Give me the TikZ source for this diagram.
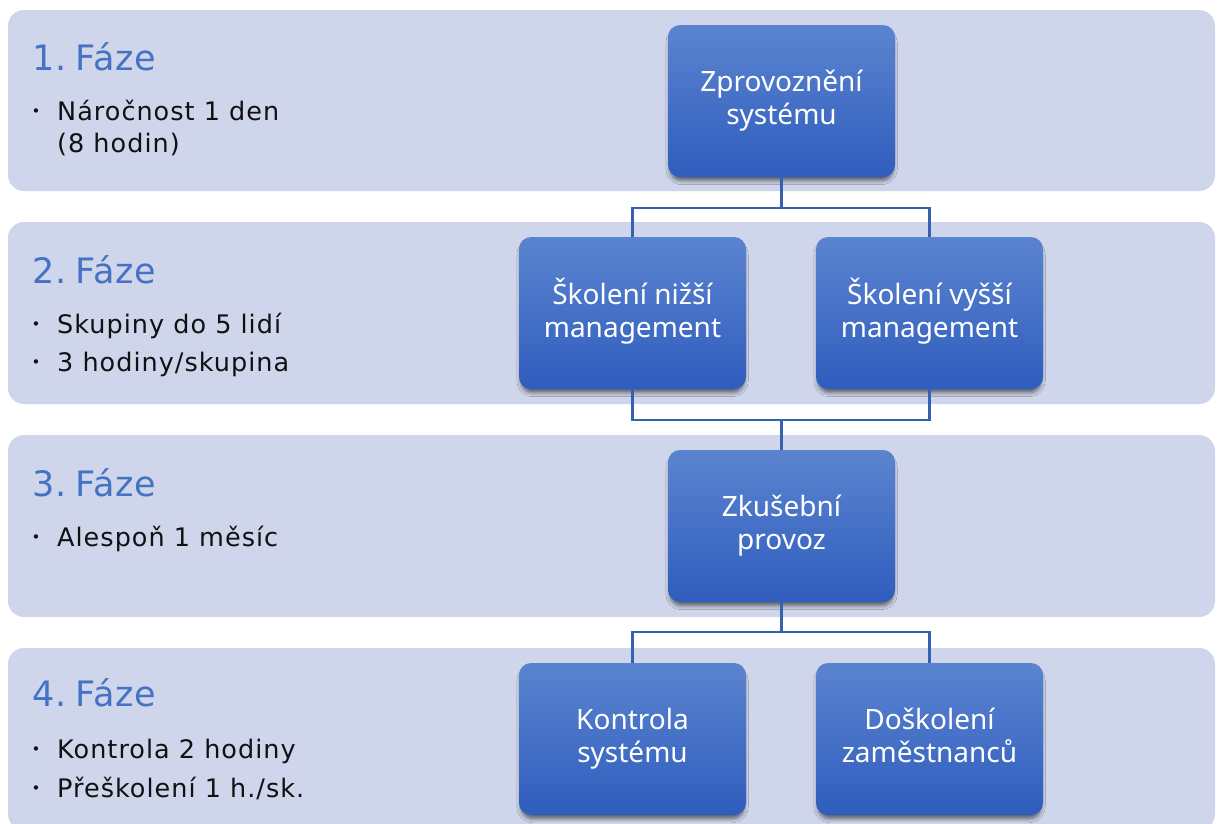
\documentclass[tikz,border=0pt]{standalone}
\usepackage{fontspec}
\setmainfont{Noto Sans}
\newfontfamily\sidefont{DejaVu Sans}
\usetikzlibrary{shadows.blur}
\definecolor{band}{HTML}{CFD5EA}
\definecolor{phaseblue}{HTML}{4472C4}
\definecolor{boxtop}{HTML}{5B84CF}
\definecolor{boxbot}{HTML}{2F5DBE}
\definecolor{linkblue}{HTML}{3461B0}
\definecolor{ink}{HTML}{111111}
\tikzset{
  bandbox/.style={fill=band, rounded corners=16pt},
  stepbox/.style={minimum width=227pt, minimum height=152pt, inner sep=0pt,
    rounded corners=12pt, top color=boxtop, bottom color=boxbot,
    blur shadow={shadow xshift=0pt, shadow yshift=-5pt, shadow scale=0.985,
      shadow opacity=55, shadow blur radius=4pt},
    text=white, align=center, font=\fontsize{28}{33}\selectfont},
  link/.style={draw=linkblue, line width=2.5pt},
  phasetitle/.style={anchor=base west, inner sep=0pt, text=phaseblue,
    font=\sidefont\fontsize{35}{40}\selectfont\addfontfeatures{LetterSpace=2}},
  bullettext/.style={anchor=base west, inner sep=0pt, text=ink,
    font=\sidefont\fontsize{25.5}{32}\selectfont\addfontfeatures{LetterSpace=4}},
  dot/.style={anchor=base, inner sep=0pt, text=ink, font=\sidefont\fontsize{15}{15}\selectfont},
}
\newcommand{\phasegap}{\hspace{0.27em}}
\begin{document}
\begin{tikzpicture}[x=1pt, y=-1pt]
\useasboundingbox (0,0) rectangle (1222,823);
\clip (0,0) rectangle (1222,823);
\fill[white] (0,0) rectangle (1222,823);

% phase bands
\fill[bandbox] (8,10) rectangle (1215,191);
\fill[bandbox] (8,222) rectangle (1215,404);
\fill[bandbox] (8,435) rectangle (1215,617);
\fill[bandbox] (8,648) rectangle (1215,830);

% phase 1
\node[phasetitle] (t1) at (32,70) {1.\phasegap Fáze};
\node[dot] (b1a) at (36,116) {•};
\node[bullettext] (l1a) at (57,120) {Náročnost 1 den};
\node[bullettext] (l1b) at (57,152) {(8 hodin)};

% phase 2
\node[phasetitle] (t2) at (32,283) {2.\phasegap Fáze};
\node[dot] (b2a) at (36,329) {•};
\node[bullettext] (l2a) at (57,333) {Skupiny do 5 lidí};
\node[dot] (b2b) at (36,367) {•};
\node[bullettext] (l2b) at (57,371) {3 hodiny/skupina};

% phase 3
\node[phasetitle] (t3) at (32,496) {3.\phasegap Fáze};
\node[dot] (b3a) at (36,542) {•};
\node[bullettext] (l3a) at (57,546) {Alespoň 1 měsíc};

% phase 4
\node[phasetitle] (t4) at (32,706) {4.\phasegap Fáze};
\node[dot] (b4a) at (36,754) {•};
\node[bullettext] (l4a) at (57,758) {Kontrola 2 hodiny};
\node[dot] (b4b) at (36,793) {•};
\node[bullettext] (l4b) at (57,797) {Přeškolení 1 h./sk.};

% steps
\node[stepbox] (zs) at (781.5,101) {Zprovoznění\strut\\systému\strut};
\node[stepbox] (sn) at (632.5,313) {Školení nižší\strut\\management\strut};
\node[stepbox] (sv) at (929.5,313) {Školení vyšší\strut\\management\strut};
\node[stepbox] (zp) at (781.5,526) {Zkušební\strut\\provoz\strut};
\node[stepbox] (ks) at (632.5,739) {Kontrola\strut\\systému\strut};
\node[stepbox] (dz) at (929.5,739) {Doškolení\strut\\zaměstnanců\strut};

% connectors
\draw[link] (zs.south) -- ++(0,31) -| (sn.north);
\draw[link] (zs.south) -- ++(0,31) -| (sv.north);
\draw[link] (sn.south) -- ++(0,31) -| (zp.north);
\draw[link] (sv.south) -- ++(0,31) -| (zp.north);
\draw[link] (zp.south) -- ++(0,30) -| (ks.north);
\draw[link] (zp.south) -- ++(0,30) -| (dz.north);
\end{tikzpicture}
\end{document}
